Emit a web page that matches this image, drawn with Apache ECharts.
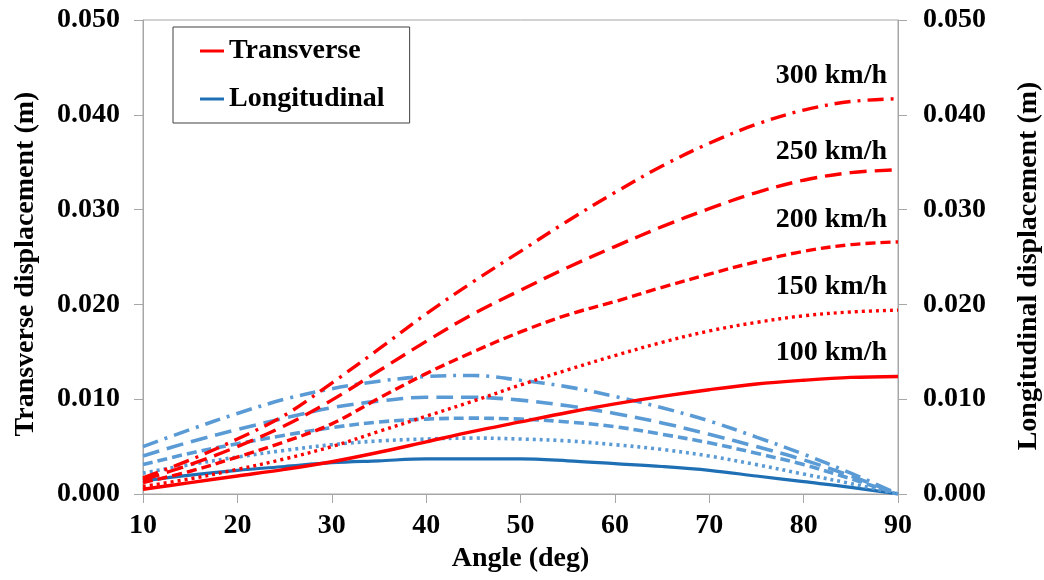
<!DOCTYPE html>
<html>
<head>
<meta charset="utf-8">
<script src="https://cdn.jsdelivr.net/npm/echarts@6/dist/echarts.min.js"></script>
<style>
html,body{margin:0;padding:0;background:#fff;}
#chart{width:1044px;height:580px;}
</style>
</head>
<body>
<div id="chart"></div>
<script>
// ---- data ----
const angles = [10, 15, 20, 25, 30, 35, 40, 45, 50, 55, 60, 65, 70, 75, 80, 85, 90];
const speedLabels = ['100 km/h', '150 km/h', '200 km/h', '250 km/h', '300 km/h'];

const transverse100 = [0.0005, 0.0012, 0.0019, 0.0026, 0.0034, 0.0044, 0.0055, 0.0066, 0.0076, 0.0086, 0.0095, 0.0103, 0.0110, 0.0116, 0.0120, 0.0123, 0.0124];
const transverse150 = [0.0008, 0.0016, 0.0026, 0.0037, 0.0050, 0.0066, 0.0082, 0.0098, 0.0115, 0.0131, 0.0146, 0.0160, 0.0172, 0.0181, 0.0188, 0.0192, 0.0194];
const transverse200 = [0.0012, 0.0024, 0.0039, 0.0055, 0.0074, 0.0101, 0.0127, 0.0150, 0.0171, 0.0189, 0.0203, 0.0218, 0.0232, 0.0245, 0.0256, 0.0263, 0.0266];
const transverse250 = [0.0015, 0.0031, 0.0050, 0.0072, 0.0099, 0.0130, 0.0161, 0.0190, 0.0215, 0.0239, 0.0261, 0.0282, 0.0301, 0.0318, 0.0331, 0.0339, 0.0342];
const transverse300 = [0.0017, 0.0036, 0.0058, 0.0083, 0.0117, 0.0153, 0.0190, 0.0224, 0.0256, 0.0288, 0.0318, 0.0346, 0.0370, 0.0390, 0.0405, 0.0414, 0.0417];

const longitudinal100 = [0.0014, 0.0020, 0.0025, 0.0029, 0.0033, 0.0035, 0.0037, 0.0037, 0.0037, 0.0035, 0.0032, 0.0029, 0.0025, 0.0019, 0.0013, 0.0007, 0.0000];
const longitudinal150 = [0.0022, 0.0031, 0.0039, 0.0046, 0.0052, 0.0056, 0.0058, 0.0059, 0.0058, 0.0056, 0.0052, 0.0047, 0.0040, 0.0031, 0.0021, 0.0011, 0.0000];
const longitudinal200 = [0.0031, 0.0043, 0.0053, 0.0062, 0.0070, 0.0076, 0.0079, 0.0080, 0.0079, 0.0076, 0.0071, 0.0063, 0.0054, 0.0043, 0.0031, 0.0016, 0.0000];
const longitudinal250 = [0.0040, 0.0055, 0.0068, 0.0080, 0.0091, 0.0098, 0.0102, 0.0102, 0.0099, 0.0093, 0.0085, 0.0075, 0.0063, 0.0050, 0.0036, 0.0019, 0.0000];
const longitudinal300 = [0.0050, 0.0068, 0.0085, 0.0100, 0.0111, 0.0119, 0.0124, 0.0125, 0.0120, 0.0113, 0.0103, 0.0091, 0.0077, 0.0060, 0.0042, 0.0022, 0.0000];

const yTicks = [0, 0.01, 0.02, 0.03, 0.04, 0.05];

// ---- styles ----
const FONT = '"Liberation Serif", "Times New Roman", serif';
const FS = 28;
const RED = '#ff0000';
const DARKBLUE = '#1f6fb5';
const LIGHTBLUE = '#5b9bd5';
const dashes = ['solid', [3, 4], [10, 5], [17, 8], [16, 7, 3, 7]];
const labelOffsets = [[-6, -24], [-6, -23], [-6, -22], [-6, -18], [-6, -23]];

const transverseSets = [transverse100, transverse150, transverse200, transverse250, transverse300];
const longitudinalSets = [longitudinal100, longitudinal150, longitudinal200, longitudinal250, longitudinal300];

function pairs(vals) { return angles.map((a, i) => [a, vals[i]]); }

const series = [];
longitudinalSets.forEach((vals, i) => {
  series.push({
    name: 'Longitudinal', type: 'line', yAxisIndex: 1, data: pairs(vals),
    smooth: 0.35, showSymbol: false, symbol: 'none', z: 2,
    lineStyle: { color: i === 0 ? DARKBLUE : LIGHTBLUE, width: i === 0 ? 3.2 : 3.6, type: dashes[i], cap: 'butt' },
    itemStyle: { color: i === 0 ? DARKBLUE : LIGHTBLUE }
  });
});
transverseSets.forEach((vals, i) => {
  series.push({
    name: 'Transverse', type: 'line', yAxisIndex: 0, data: pairs(vals),
    smooth: 0.35, showSymbol: false, symbol: 'none', z: 3,
    lineStyle: { color: RED, width: 3.4, type: dashes[i], cap: 'butt' },
    itemStyle: { color: RED },
    markPoint: {
      symbol: 'circle', symbolSize: 0, silent: true, animation: false,
      label: {
        show: true, position: 'left', distance: 5, offset: labelOffsets[i],
        formatter: speedLabels[i], color: '#000', fontFamily: FONT, fontWeight: 'bold', fontSize: FS
      },
      data: [{ coord: [angles[angles.length - 1], vals[vals.length - 1]] }]
    }
  });
});

const yAxisBase = {
  type: 'value', min: yTicks[0], max: yTicks[yTicks.length - 1], interval: 0.01,
  nameLocation: 'middle', nameRotate: 90,
  axisLine: { show: true, lineStyle: { color: '#a6a6a6', width: 1 } },
  axisTick: { show: true, inside: false, length: 9, lineStyle: { color: '#a6a6a6' } },
  splitLine: { show: false },
  axisLabel: { color: '#000', fontFamily: FONT, fontWeight: 'bold', fontSize: FS,
    formatter: v => v.toFixed(3) }
};

const option = {
  animation: false,
  backgroundColor: '#fff',
  grid: { left: 143, right: 146, top: 20, bottom: 86, show: true, borderColor: '#a6a6a6', borderWidth: 1,
    containLabel: false, outerBoundsMode: 'none' },
  legend: {
    left: 173, top: 27, orient: 'vertical',
    padding: [10, 25, 10, 27], itemGap: 20, itemWidth: 24, itemHeight: 3,
    borderColor: '#404040', borderWidth: 1, backgroundColor: '#fff',
    selectedMode: false,
    textStyle: { color: '#000', fontFamily: FONT, fontWeight: 'bold', fontSize: FS },
    data: [
      { name: 'Transverse', icon: 'rect', itemStyle: { color: RED } },
      { name: 'Longitudinal', icon: 'rect', itemStyle: { color: DARKBLUE } }
    ]
  },
  xAxis: {
    type: 'value', min: angles[0], max: angles[angles.length - 1], interval: 10,
    name: 'Angle (deg)', nameLocation: 'middle', nameGap: 44,
    nameTextStyle: { color: '#000', fontFamily: FONT, fontWeight: 'bold', fontSize: FS },
    axisLine: { show: true, lineStyle: { color: '#a6a6a6', width: 1 } },
    axisTick: { show: true, inside: false, length: 9, lineStyle: { color: '#a6a6a6' } },
    splitLine: { show: false },
    axisLabel: { color: '#000', fontFamily: FONT, fontWeight: 'bold', fontSize: FS, margin: 18 }
  },
  yAxis: [
    Object.assign({}, yAxisBase, { position: 'left', name: 'Transverse displacement (m)', nameGap: 103,
      nameTextStyle: { color: '#000', fontFamily: FONT, fontWeight: 'bold', fontSize: FS, padding: [0, 14, 0, 0] },
      axisLabel: Object.assign({}, yAxisBase.axisLabel, { margin: 23 }) }),
    Object.assign({}, yAxisBase, { position: 'right', name: 'Longitudinal displacement (m)', nameGap: 117,
      nameTextStyle: { color: '#000', fontFamily: FONT, fontWeight: 'bold', fontSize: FS, padding: [0, 18, 0, 0] },
      axisLabel: Object.assign({}, yAxisBase.axisLabel, { margin: 25 }) })
  ],
  series: series
};

const chart = echarts.init(document.getElementById('chart'), null, { renderer: 'canvas' });
chart.setOption(option);
</script>
</body>
</html>
